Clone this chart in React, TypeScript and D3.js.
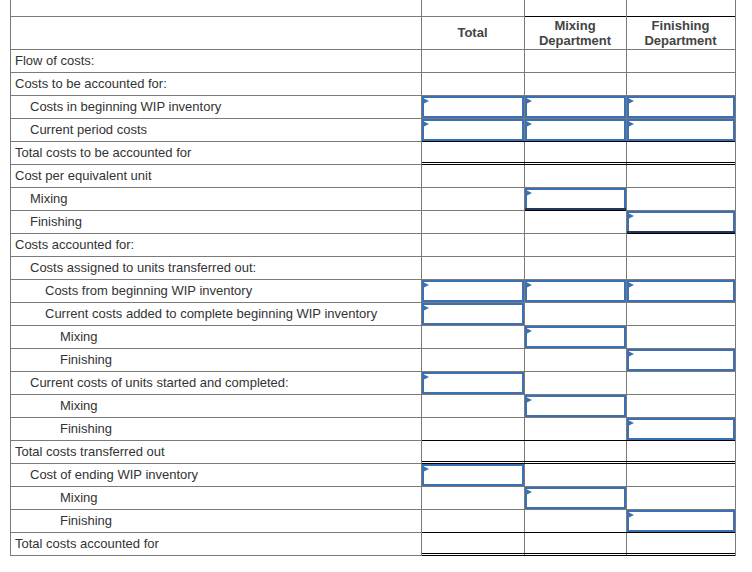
import React from "react";
import * as d3 from "d3";

// ---- data ----
const columnHeaders: string[][] = [["Total"], ["Mixing", "Department"], ["Finishing", "Department"]];

const rowLabels: string[] = [
  "Flow of costs:",
  "Costs to be accounted for:",
  "Costs in beginning WIP inventory",
  "Current period costs",
  "Total costs to be accounted for",
  "Cost per equivalent unit",
  "Mixing",
  "Finishing",
  "Costs accounted for:",
  "Costs assigned to units transferred out:",
  "Costs from beginning WIP inventory",
  "Current costs added to complete beginning WIP inventory",
  "Mixing",
  "Finishing",
  "Current costs of units started and completed:",
  "Mixing",
  "Finishing",
  "Total costs transferred out",
  "Cost of ending WIP inventory",
  "Mixing",
  "Finishing",
  "Total costs accounted for",
];

const rowIndents: number[] = [0, 0, 1, 1, 0, 0, 1, 1, 0, 1, 2, 2, 3, 3, 1, 3, 3, 0, 1, 3, 3, 0];

// input boxes: columns (0 Total, 1 Mixing, 2 Finishing) per row
const inputCells: number[][] = [
  [], [], [0, 1, 2], [0, 1, 2], [], [], [1], [2], [], [], [0, 1, 2], [0], [1], [2], [0], [1], [2], [], [0], [1], [2], [],
];

// rows that are totals (single rule above, double rule below)
const totalRows: number[] = [4, 17, 21];
// cells with a double rule below (row, column)
const doubleUnder: [number, number][] = [[6, 1], [7, 2]];

// ---- layout ----
const W = 752;
const H = 572;
const colEdges = [10, 421, 524, 626, 735];
const topRowBottom = 16;
const headerBottom = 49;
const rowH = 23;
const GRID = "#7a7a7a";
const BLUE = "#3b70b4";
const TEXT = "#333333";
const FONT = "Arial, 'Liberation Sans', sans-serif";

export default function App() {
  const n = rowLabels.length;
  const y = d3.scaleLinear().domain([0, n]).range([headerBottom, headerBottom + n * rowH]);
  const indentX = d3.scaleLinear().domain([0, 3]).range([colEdges[0] + 5, colEdges[0] + 50]);
  const left = colEdges[0];
  const right = colEdges[colEdges.length - 1];
  const valLeft = colEdges[1];
  const bottom = y(n);

  const lines: React.ReactNode[] = [];
  lines.push(<line key="h-top1" x1={left} x2={colEdges[2]} y1={topRowBottom + 0.5} y2={topRowBottom + 0.5} stroke={GRID} />);
  lines.push(<line key="h-top2" x1={colEdges[2]} x2={right + 0.5} y1={topRowBottom + 0.5} y2={topRowBottom + 0.5} stroke="#000" />);
  for (let i = 0; i <= n; i++) {
    const yy = Math.round(y(i)) + 0.5;
    lines.push(<line key={"h" + i} x1={left} x2={right + 0.5} y1={yy} y2={yy} stroke={GRID} />);
  }
  colEdges.forEach((cx, i) => {
    lines.push(<line key={"v" + i} x1={cx + 0.5} x2={cx + 0.5} y1={0} y2={bottom + 1} stroke={GRID} />);
  });

  const rules: React.ReactNode[] = [];
  totalRows.forEach((r) => {
    const t = Math.round(y(r)) + 0.5;
    const b = Math.round(y(r + 1)) + 0.5;
    rules.push(<line key={"t" + r} x1={valLeft + 1} x2={right} y1={t} y2={t} stroke="#000" />);
    rules.push(<line key={"b1" + r} x1={valLeft + 1} x2={right} y1={b - 2} y2={b - 2} stroke="#000" />);
    rules.push(<line key={"b2" + r} x1={valLeft + 1} x2={right} y1={b} y2={b} stroke="#000" />);
  });
  doubleUnder.forEach(([r, c]) => {
    const b = Math.round(y(r + 1)) + 0.5;
    const x1 = colEdges[c + 1] + 1;
    const x2 = colEdges[c + 2];
    rules.push(<line key={"d1" + r + c} x1={x1} x2={x2} y1={b - 1.5} y2={b - 1.5} stroke="#000" />);
    rules.push(<line key={"d2" + r + c} x1={x1} x2={x2} y1={b} y2={b} stroke="#000" />);
  });

  const boxes: React.ReactNode[] = [];
  inputCells.forEach((cols, r) => {
    cols.forEach((c) => {
      const x0 = colEdges[c + 1];
      const x1 = colEdges[c + 2];
      const y0 = Math.round(y(r));
      const y1 = Math.round(y(r + 1));
      boxes.push(
        <g key={"b" + r + "-" + c}>
          <rect x={x0 + 2} y={y0 + 2} width={x1 - x0 - 3} height={y1 - y0 - 3} fill="#fff" stroke={BLUE} strokeWidth={2} />
          <path d={`M${x0 + 2},${y0 + 3}L${x0 + 8},${y0 + 6}L${x0 + 2},${y0 + 9}Z`} fill={BLUE} />
        </g>
      );
    });
  });

  return (
    <svg width={W} height={H} style={{ position: "absolute", left: 0, top: 0, background: "#fff" }}>
      <rect x={0} y={0} width={W} height={H} fill="#fff" />
      {lines}
      {boxes}
      {rules}
      {rowLabels.map((lab, i) => (
        <text
          key={"l" + i}
          x={indentX(rowIndents[i])}
          y={(y(i) + y(i + 1)) / 2}
          dominantBaseline="central"
          fontFamily={FONT}
          fontSize={13}
          fill={TEXT}
        >
          {lab}
        </text>
      ))}
      {columnHeaders.map((lines2, c) => {
        const cx = (colEdges[c + 1] + colEdges[c + 2]) / 2;
        const cy = (topRowBottom + headerBottom) / 2;
        return (
          <text key={"hd" + c} x={cx} textAnchor="middle" fontFamily={FONT} fontSize={13} fontWeight="bold" fill="#444">
            {lines2.map((t, k) => (
              <tspan key={k} x={cx} y={cy + (k - (lines2.length - 1) / 2) * 15} dominantBaseline="central">
                {t}
              </tspan>
            ))}
          </text>
        );
      })}
    </svg>
  );
}
